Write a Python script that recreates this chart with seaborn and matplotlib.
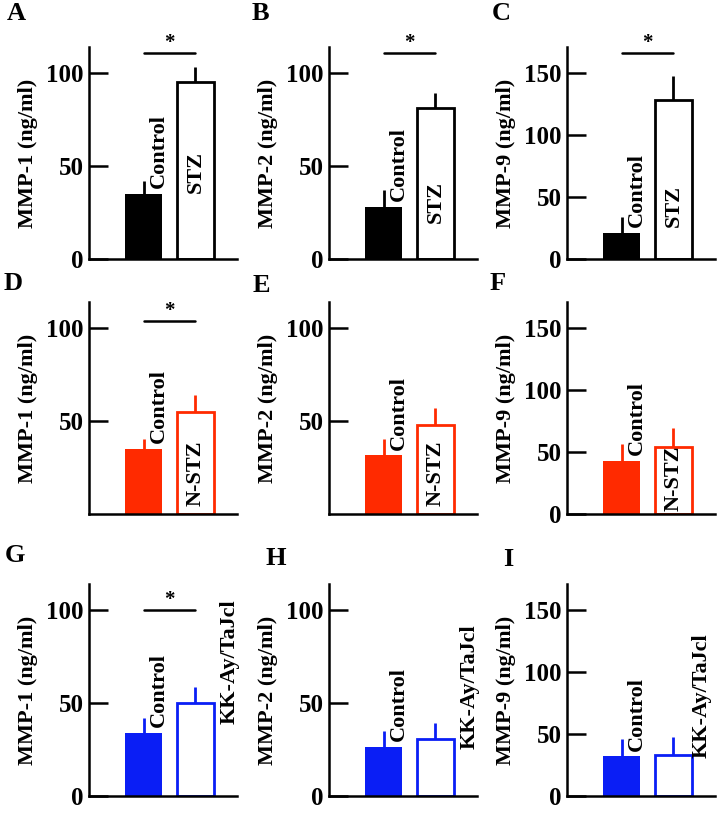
import numpy as np
import pandas as pd
import matplotlib
matplotlib.use("Agg")
import matplotlib.pyplot as plt
import seaborn as sns

# data (ng/ml)
markers = ["MMP-1", "MMP-2", "MMP-9"]
models = ["STZ", "N-STZ", "KK-Ay/TaJcl"]
panel_letters = [["A", "B", "C"], ["D", "E", "F"], ["G", "H", "I"]]

control_means = [[35, 28, 21], [35, 31.5, 43], [34, 26.5, 32]]
control_err = [[7, 9, 13], [5.5, 9, 13.5], [8, 8.5, 14]]
model_means = [[95, 81, 128], [55, 48, 54], [50, 30.5, 33]]
model_err = [[8, 8, 20], [9, 9, 15], [8.5, 9, 14.5]]
significant = [[True, True, True], [True, False, False], [True, False, False]]

y_max = [114, 114, 171]
y_ticks = [[0, 50, 100], [0, 50, 100], [0, 50, 100, 150]]

row_colors = ["#000000", "#ff2a00", "#0a1ef5"]

sns.set_style("ticks")
plt.rcParams["font.family"] = ["Liberation Serif", "DejaVu Serif"]
plt.rcParams["font.weight"] = "bold"
for k in ["text.color", "axes.labelcolor", "xtick.color", "ytick.color", "axes.edgecolor"]:
    plt.rcParams[k] = "black"

W, H = 718, 813
fig = plt.figure(figsize=(W / 100, H / 100), dpi=100)

col_left = [89, 329, 567]
row_bottom = [259, 514, 796]
ax_w, ax_h = 148, 212

letter_pos = [[(7, 14), (252, 14), (492, 14)],
              [(4, 284), (253, 286), (490, 284)],
              [(5, 556), (265, 558), (503, 559)]]
sig_y = [[111, 111, 166], [104, None, None], [100, None, None]]
label_frac = [[0.31, 0.17, 0.15], [0.036, 0.04, 0.015], [0.34, 0.22, 0.18]]
label_dx = [[0, 0, 0], [0, 0, 0], [0.66, 0.66, 0.55]]

for r in range(3):
    color = row_colors[r]
    for c in range(3):
        ax = fig.add_axes([col_left[c] / W, 1 - row_bottom[r] / H, ax_w / W, ax_h / H])
        df = pd.DataFrame({"group": ["Control", models[r]],
                           "value": [control_means[r][c], model_means[r][c]]})
        sns.barplot(data=df, x="group", y="value", hue="group", legend=False,
                    palette=[color, "white"], saturation=1, width=0.71, ax=ax,
                    errorbar=None)
        for i, patch in enumerate(ax.patches):
            patch.set_edgecolor(color)
            patch.set_linewidth(0 if i == 0 else 2)
        errs = [control_err[r][c], model_err[r][c]]
        means = df["value"].values
        ax.vlines([0, 1], means, means + np.array(errs), colors=color, linewidth=2)

        ax.set_xlim(-1.05, 1.8)
        ax.set_ylim(0, y_max[c])
        ticks = y_ticks[c]
        if r == 1 and c < 2:
            ticks = ticks[1:]
        ax.set_yticks(ticks)
        ax.set_yticklabels([str(t) for t in ticks], fontsize=18, fontweight="bold")
        ax.tick_params(axis="y", direction="in", length=14, width=1.8, pad=4)
        ax.set_xticks([])
        ax.set_xlabel("")
        ax.set_ylabel(f"{markers[c]} (ng/ml)", fontsize=16, fontweight="bold", labelpad=6)
        sns.despine(ax=ax)
        for s in ["left", "bottom"]:
            ax.spines[s].set_linewidth(1.8)

        # group labels
        ax.annotate("Control", (0.29, control_means[r][c]), xytext=(0, 4),
                    textcoords="offset points", rotation=90, ha="center", va="bottom",
                    fontsize=16, fontweight="bold")
        ax.text(1 + label_dx[r][c], label_frac[r][c] * y_max[c], models[r], rotation=90,
                ha="center", va="bottom", fontsize=16, fontweight="bold", clip_on=False)

        if significant[r][c]:
            y = sig_y[r][c]
            ax.plot([0, 1], [y, y], color="black", linewidth=1.8, clip_on=False)
            ax.text(0.5, y, "*", ha="center", va="bottom", fontsize=15, fontweight="bold")

        lx, ly = letter_pos[r][c]
        fig.text(lx / W, 1 - ly / H, panel_letters[r][c], ha="left", va="center",
                 fontsize=19, fontweight="bold")

fig.savefig("out.png", dpi=100)
